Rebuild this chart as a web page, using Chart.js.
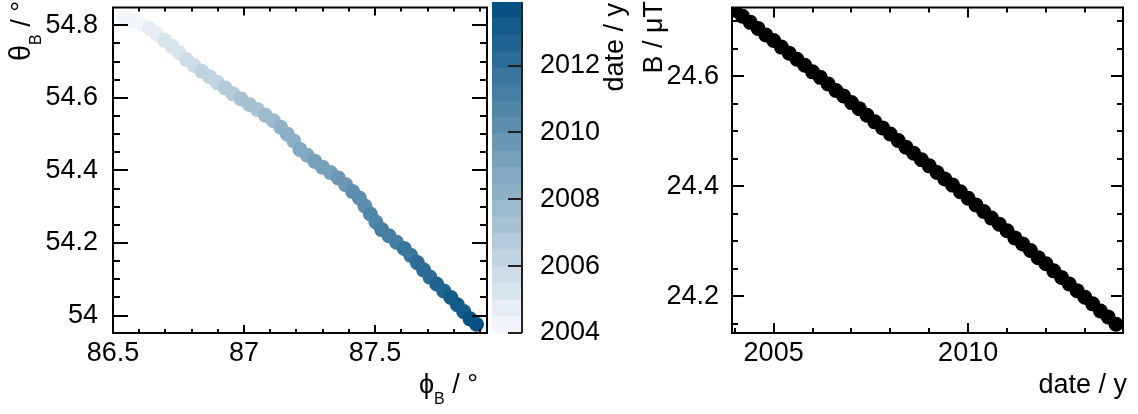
<!DOCTYPE html>
<html lang="en">
<head>
<meta charset="UTF-8">
<title>Field direction and strength</title>
<script src="https://cdn.jsdelivr.net/npm/chart.js"></script>
<style>
  body { margin: 0; background: #fff; }
  #wrap { position: relative; width: 1138px; height: 414px; }
  #wrap canvas { position: absolute; left: 0; top: 0; }
</style>
</head>
<body>
<div id="wrap">
  <canvas id="dirChart" width="1138" height="414"></canvas>
  <canvas id="barChart" width="1138" height="414"></canvas>
  <canvas id="fieldChart" width="1138" height="414"></canvas>
</div>
<script>
// field direction and strength sampled every 0.2 y
const dates = [
  2004.0, 2004.2, 2004.4, 2004.6, 2004.8, 2005.0, 2005.2, 2005.4, 2005.6, 2005.8,
  2006.0, 2006.2, 2006.4, 2006.6, 2006.8, 2007.0, 2007.2, 2007.4, 2007.6, 2007.8,
  2008.0, 2008.2, 2008.4, 2008.6, 2008.8, 2009.0, 2009.2, 2009.4, 2009.6, 2009.8,
  2010.0, 2010.2, 2010.4, 2010.6, 2010.8, 2011.0, 2011.2, 2011.4, 2011.6, 2011.8,
  2012.0, 2012.2, 2012.4, 2012.6, 2012.8, 2013.0, 2013.2, 2013.4, 2013.6, 2013.8
];
const phiB = [
  86.545, 86.576, 86.608, 86.640, 86.668, 86.697, 86.725, 86.753, 86.780, 86.809,
  86.839, 86.868, 86.898, 86.928, 86.958, 86.989, 87.020, 87.051, 87.082, 87.112,
  87.140, 87.165, 87.190, 87.213, 87.241, 87.270, 87.299, 87.330, 87.360, 87.387,
  87.414, 87.440, 87.461, 87.482, 87.503, 87.525, 87.553, 87.582, 87.611, 87.636,
  87.661, 87.685, 87.709, 87.735, 87.762, 87.789, 87.814, 87.838, 87.862, 87.887
];
const thetaB = [
  54.822, 54.812, 54.802, 54.792, 54.776, 54.759, 54.742, 54.724, 54.706, 54.689,
  54.673, 54.658, 54.642, 54.627, 54.611, 54.597, 54.582, 54.568, 54.552, 54.537,
  54.519, 54.500, 54.481, 54.458, 54.442, 54.425, 54.409, 54.394, 54.379, 54.361,
  54.342, 54.324, 54.302, 54.280, 54.258, 54.237, 54.220, 54.202, 54.185, 54.166,
  54.146, 54.126, 54.106, 54.087, 54.068, 54.050, 54.030, 54.011, 53.991, 53.976
];
const fieldB = [
  24.720, 24.709, 24.698, 24.687, 24.675, 24.665, 24.653, 24.642, 24.631, 24.620,
  24.608, 24.598, 24.586, 24.574, 24.564, 24.552, 24.541, 24.529, 24.517, 24.506,
  24.495, 24.483, 24.471, 24.460, 24.448, 24.437, 24.425, 24.413, 24.402, 24.390,
  24.378, 24.366, 24.354, 24.342, 24.331, 24.319, 24.306, 24.295, 24.283, 24.270,
  24.259, 24.246, 24.234, 24.222, 24.210, 24.198, 24.186, 24.173, 24.162, 24.149
];

const phiTicks = [86.5, 87, 87.5];
const thetaTicks = [54, 54.2, 54.4, 54.6, 54.8];
const dateTicks = [2004, 2006, 2008, 2010, 2012];
const yearTicks = [2005, 2010];
const fieldTicks = [24.2, 24.4, 24.6];

const dateMin = 2004, dateMax = 2013.9;
const nBands = 20;
const lowRGB = [242, 246, 250], highRGB = [8, 82, 131];
const FONT = "'Liberation Sans', Arial, Helvetica, sans-serif";

Chart.defaults.font.family = FONT;
Chart.defaults.font.size = 27;
Chart.defaults.color = '#000';

function bandColor(k) {
  const f = k / (nBands - 1);
  const c = lowRGB.map((v, i) => Math.round(v + (highRGB[i] - v) * f));
  return `rgb(${c[0]},${c[1]},${c[2]})`;
}
function dateColor(t) {
  let k = Math.floor((t - dateMin) / (dateMax - dateMin) * nBands);
  k = Math.max(0, Math.min(nBands - 1, k));
  return bandColor(k);
}
function steps(from, to, step) {
  const out = [];
  for (let v = from; v <= to + 1e-9; v += step) out.push(+v.toFixed(4));
  return out;
}
const fixTicks = vals => scale => { scale.ticks = vals.map(v => ({ value: v })); };
// fixed axis size, and no extra room for labels hanging past the ends
const fitX = h => s => { s.height = h; s.paddingLeft = 0; s.paddingRight = 0; };
const fitY = w => s => { s.width = w; s.paddingTop = 0; s.paddingBottom = 0; };

// frame round the plot area with inward ticks on all four sides
const frameTicks = {
  id: 'frameTicks',
  afterDatasetsDraw(chart, args, o) {
    if (!o.x) return;
    const { ctx, chartArea: a, scales } = chart;
    ctx.save();
    ctx.strokeStyle = '#000';
    ctx.lineWidth = 2;
    ctx.beginPath();
    const xs = (vals, len) => vals.forEach(v => {
      const px = Math.round(scales.x.getPixelForValue(v));
      if (px < a.left || px > a.right) return;
      ctx.moveTo(px, a.bottom); ctx.lineTo(px, a.bottom - len);
      ctx.moveTo(px, a.top); ctx.lineTo(px, a.top + len);
    });
    const ys = (vals, len) => vals.forEach(v => {
      const py = Math.round(scales.y.getPixelForValue(v));
      if (py < a.top || py > a.bottom) return;
      ctx.moveTo(a.left, py); ctx.lineTo(a.left + len, py);
      ctx.moveTo(a.right, py); ctx.lineTo(a.right - len, py);
    });
    xs(o.x.minor, o.x.minorLen); xs(o.x.major, o.x.majorLen);
    ys(o.y.minor, o.y.minorLen); ys(o.y.major, o.y.majorLen);
    ctx.stroke();
    ctx.strokeRect(a.left, a.top, a.width, a.height);
    ctx.restore();
  }
};

// axis titles with subscripts, right aligned to the end of the axis
const axisTitles = {
  id: 'axisTitles',
  afterDraw(chart, args, o) {
    if (!o.items) return;
    const ctx = chart.ctx;
    o.items.forEach(item => {
      ctx.save();
      ctx.translate(item.x, item.y);
      if (item.rotate) ctx.rotate(-Math.PI / 2);
      ctx.fillStyle = '#000';
      ctx.textBaseline = 'alphabetic';
      const font = p => `${p[1]}px ${FONT}`;
      let total = 0;
      item.parts.forEach(p => { ctx.font = font(p); total += ctx.measureText(p[0]).width; });
      let x = -total;
      item.parts.forEach(p => {
        ctx.font = font(p);
        ctx.fillText(p[0], x, p[2]);
        x += ctx.measureText(p[0]).width;
      });
      ctx.restore();
    });
  }
};
Chart.register(frameTicks, axisTitles);

const numLabel = v => String(v);

// theta vs phi, coloured by date
new Chart(document.getElementById('dirChart'), {
  type: 'scatter',
  data: {
    datasets: [{
      data: dates.map((t, i) => ({ x: phiB[i], y: thetaB[i], date: t })),
      pointRadius: 7.5,
      pointBorderWidth: 0,
      pointBackgroundColor: c => c.raw ? dateColor(c.raw.date) : '#000',
      clip: 0
    }]
  },
  options: {
    responsive: false,
    animation: false,
    events: [],
    layout: { padding: { left: 0, top: 2, right: 651, bottom: 0 } },
    scales: {
      x: {
        type: 'linear', min: 86.5, max: 87.927,
        afterBuildTicks: fixTicks(phiTicks),
        afterFit: fitX(81),
        grid: { display: false }, border: { display: false },
        ticks: { padding: -4, callback: numLabel }
      },
      y: {
        type: 'linear', min: 53.952, max: 54.849,
        afterBuildTicks: fixTicks(thetaTicks),
        afterFit: fitY(113),
        grid: { display: false }, border: { display: false },
        ticks: { padding: 7, callback: numLabel }
      }
    },
    plugins: {
      legend: { display: false },
      tooltip: { enabled: false },
      frameTicks: {
        x: { major: phiTicks, minor: steps(86.5, 87.9, 0.1), majorLen: 8, minorLen: 4 },
        y: { major: thetaTicks, minor: steps(53.95, 54.85, 0.05), majorLen: 15, minorLen: 7 }
      },
      axisTitles: {
        items: [
          { x: 30, y: 1, rotate: true, parts: [['θ', 29, 0], ['B', 16, 11], [' / °', 27, 0]] },
          { x: 478, y: 393, rotate: false, parts: [['ϕ', 27, 0], ['B', 16, 11], [' / °', 27, 0]] }
        ]
      }
    }
  }
});

// colour scale for the date
new Chart(document.getElementById('barChart'), {
  type: 'bar',
  data: {
    labels: ['date'],
    datasets: Array.from({ length: nBands }, (_, k) => ({
      data: [[dateMin + (dateMax - dateMin) * k / nBands, dateMin + (dateMax - dateMin) * (k + 1) / nBands]],
      backgroundColor: bandColor(k),
      borderWidth: 0,
      grouped: false,
      barPercentage: 1,
      categoryPercentage: 1
    }))
  },
  options: {
    responsive: false,
    animation: false,
    events: [],
    layout: { padding: { left: 492, top: 2, right: 0, bottom: 81 } },
    scales: {
      x: { display: false },
      y: {
        type: 'linear', position: 'right', min: dateMin, max: dateMax,
        afterBuildTicks: fixTicks(dateTicks),
        afterFit: fitY(616),
        grid: { display: false }, border: { display: false },
        ticks: { padding: 10, callback: numLabel }
      }
    },
    plugins: {
      legend: { display: false },
      tooltip: { enabled: false },
      axisTitles: {
        items: [{ x: 623, y: 3, rotate: true, parts: [['date / y', 27, 0]] }]
      }
    }
  },
  plugins: [{
    id: 'scaleAxis',
    afterDatasetsDraw(chart) {
      const { ctx, chartArea: a, scales } = chart;
      ctx.save();
      ctx.strokeStyle = '#222';
      ctx.lineWidth = 2;
      ctx.beginPath();
      ctx.moveTo(a.right, a.top); ctx.lineTo(a.right, a.bottom);
      dateTicks.forEach(v => {
        const py = Math.round(scales.y.getPixelForValue(v));
        ctx.moveTo(a.right, py); ctx.lineTo(a.right - 14, py);
      });
      ctx.stroke();
      ctx.restore();
    }
  }]
});

// field strength over time
new Chart(document.getElementById('fieldChart'), {
  type: 'scatter',
  data: {
    datasets: [{
      data: dates.map((t, i) => ({ x: t, y: fieldB[i] })),
      pointRadius: 7.5,
      pointBorderWidth: 0,
      pointBackgroundColor: '#000',
      clip: 0
    }]
  },
  options: {
    responsive: false,
    animation: false,
    events: [],
    layout: { padding: { left: 0, top: 2, right: 15, bottom: 0 } },
    scales: {
      x: {
        type: 'linear', min: 2003.93, max: 2013.98,
        afterBuildTicks: fixTicks(yearTicks),
        afterFit: fitX(81),
        grid: { display: false }, border: { display: false },
        ticks: { padding: -4, callback: numLabel }
      },
      y: {
        type: 'linear', min: 24.133, max: 24.725,
        afterBuildTicks: fixTicks(fieldTicks),
        afterFit: fitY(732),
        grid: { display: false }, border: { display: false },
        ticks: { padding: 5, callback: numLabel }
      }
    },
    plugins: {
      legend: { display: false },
      tooltip: { enabled: false },
      frameTicks: {
        x: { major: yearTicks, minor: steps(2004, 2013, 1), majorLen: 10, minorLen: 5 },
        y: { major: fieldTicks, minor: steps(24.15, 24.7, 0.05), majorLen: 12, minorLen: 6 }
      },
      axisTitles: {
        items: [
          { x: 662, y: 1, rotate: true, parts: [['B / μT', 27, 0]] },
          { x: 1127, y: 393, rotate: false, parts: [['date / y', 27, 0]] }
        ]
      }
    }
  }
});
</script>
</body>
</html>
